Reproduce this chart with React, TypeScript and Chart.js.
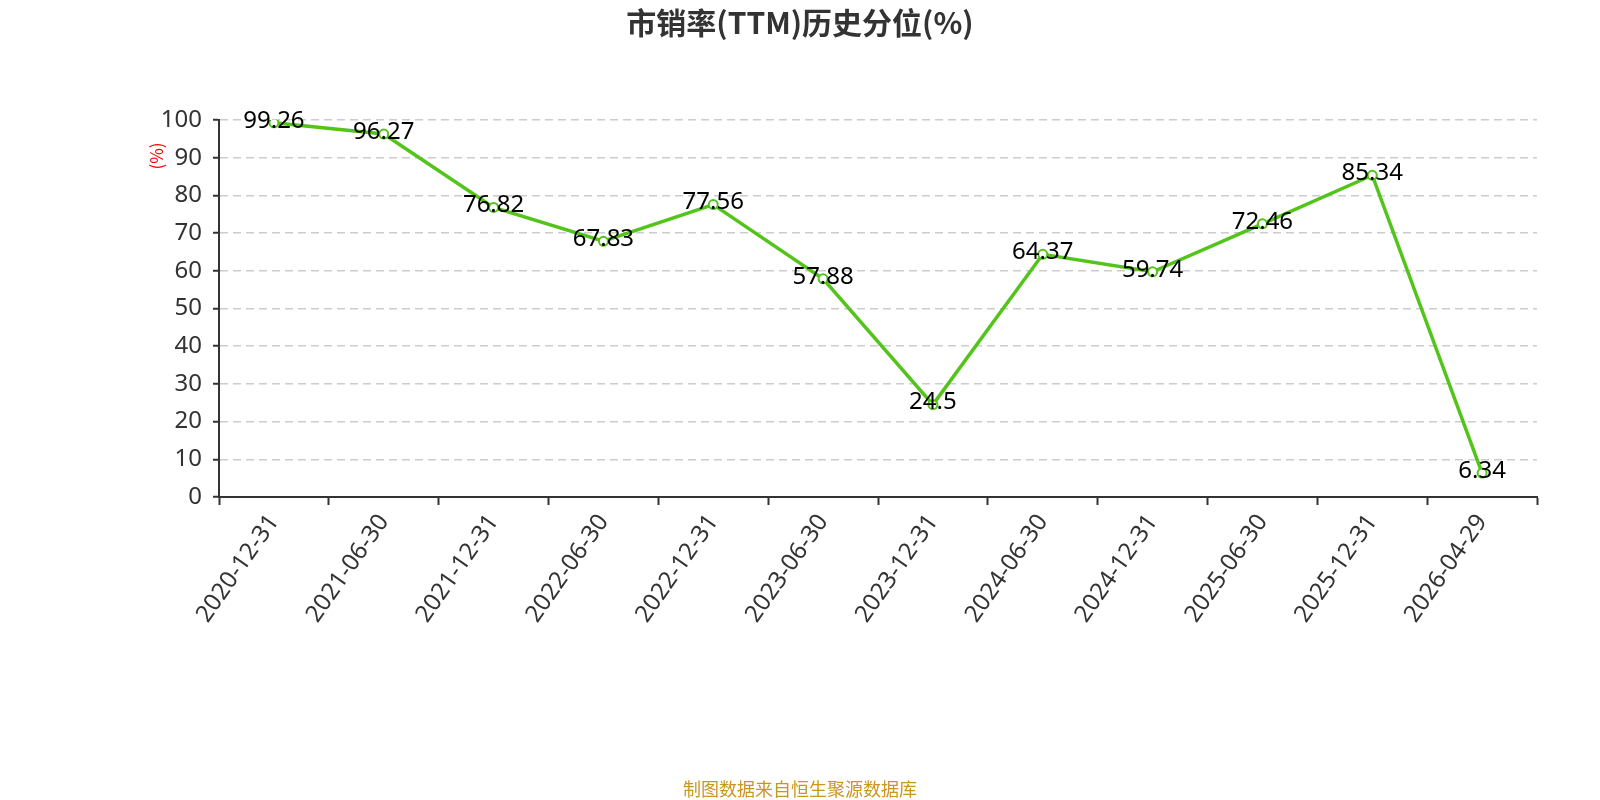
import React, { useEffect, useRef } from "react";
import { Chart, registerables } from "chart.js";

Chart.register(...registerables);

const categories = [
  "2020-12-31", "2021-06-30", "2021-12-31", "2022-06-30", "2022-12-31", "2023-06-30",
  "2023-12-31", "2024-06-30", "2024-12-31", "2025-06-30", "2025-12-31", "2026-04-29",
];
const values = [99.26, 96.27, 76.82, 67.83, 77.56, 57.88, 24.5, 64.37, 59.74, 72.46, 85.34, 6.34];
const titleText = "市销率(TTM)历史分位(%)";
const unitText = "(%)";
const footerText = "制图数据来自恒生聚源数据库";

const FONT = "'Noto Sans', 'Noto Sans CJK SC', sans-serif";
const CJK = "'Noto Sans CJK SC', 'Noto Sans', sans-serif";

const decorPlugin = {
  id: "decor",
  afterDatasetsDraw(chart: any) {
    const ctx = chart.ctx;
    const meta = chart.getDatasetMeta(0);
    ctx.save();
    ctx.fillStyle = "#000";
    ctx.font = `24px ${FONT}`;
    ctx.textAlign = "center";
    ctx.textBaseline = "middle";
    meta.data.forEach((pt: any, i: number) => {
      ctx.fillText(String(values[i]), pt.x, pt.y - 2);
    });
    ctx.restore();
  },
  afterDraw(chart: any) {
    const ctx = chart.ctx;
    ctx.save();
    ctx.fillStyle = "#333";
    ctx.font = `bold 30px ${CJK}`;
    ctx.textAlign = "center";
    ctx.textBaseline = "middle";
    ctx.fillText(titleText, 800, 23);

    ctx.fillStyle = "#c9961f";
    ctx.font = `18px ${CJK}`;
    ctx.fillText(footerText, 800, 789);

    ctx.translate(157, 156);
    ctx.rotate(-Math.PI / 2);
    ctx.fillStyle = "#ff0000";
    ctx.font = `17px ${CJK}`;
    ctx.fillText(unitText, 0, 0);
    ctx.restore();
  },
};

export default function App() {
  const ref = useRef<HTMLCanvasElement | null>(null);
  useEffect(() => {
    if (!ref.current) return;
    const chart = new Chart(ref.current, {
      type: "line",
      data: {
        labels: categories,
        datasets: [
          {
            data: values,
            borderColor: "#52c41a",
            borderWidth: 3.5,
            pointRadius: 4.5,
            pointBorderWidth: 2,
            pointBackgroundColor: "#fff",
            pointBorderColor: "#52c41a",
            tension: 0,
          },
        ],
      },
      options: {
        animation: false,
        responsive: false,
        maintainAspectRatio: false,
        layout: { padding: { left: 0, right: 63, top: 120, bottom: 0 } },
        plugins: { legend: { display: false }, tooltip: { enabled: false }, title: { display: false } },
        scales: {
          x: {
            offset: true,
            afterFit: (s: any) => { s.height = 303; },
            grid: {
              offset: true,
              drawOnChartArea: false,
              drawTicks: true,
              tickLength: 8,
              tickColor: "#333",
              tickWidth: 2,
            },
            border: { color: "#333", width: 2 },
            ticks: {
              color: "#333",
              font: { size: 24, family: FONT },
              maxRotation: 55,
              minRotation: 55,
              padding: 4,
              autoSkip: false,
            },
          },
          y: {
            min: 0,
            max: 100,
            afterFit: (s: any) => { s.width = 219; },
            grid: {
              color: "#cccccc",
              lineWidth: 1.5,
              drawTicks: true,
              tickLength: 6,
              tickColor: "#333",
              tickWidth: 2,
              tickBorderDash: [],
            },
            border: { color: "#333", width: 2, dash: [8, 5] },
            ticks: {
              stepSize: 10,
              color: "#333",
              font: { size: 24, family: FONT },
              padding: 11,
            },
          },
        },
      },
      plugins: [decorPlugin],
    });
    return () => chart.destroy();
  }, []);
  return (
    <div style={{ position: "fixed", left: 0, top: 0, width: 1600, height: 800, background: "#fff" }}>
      <canvas ref={ref} width={1600} height={800} style={{ width: 1600, height: 800 }} />
    </div>
  );
}
